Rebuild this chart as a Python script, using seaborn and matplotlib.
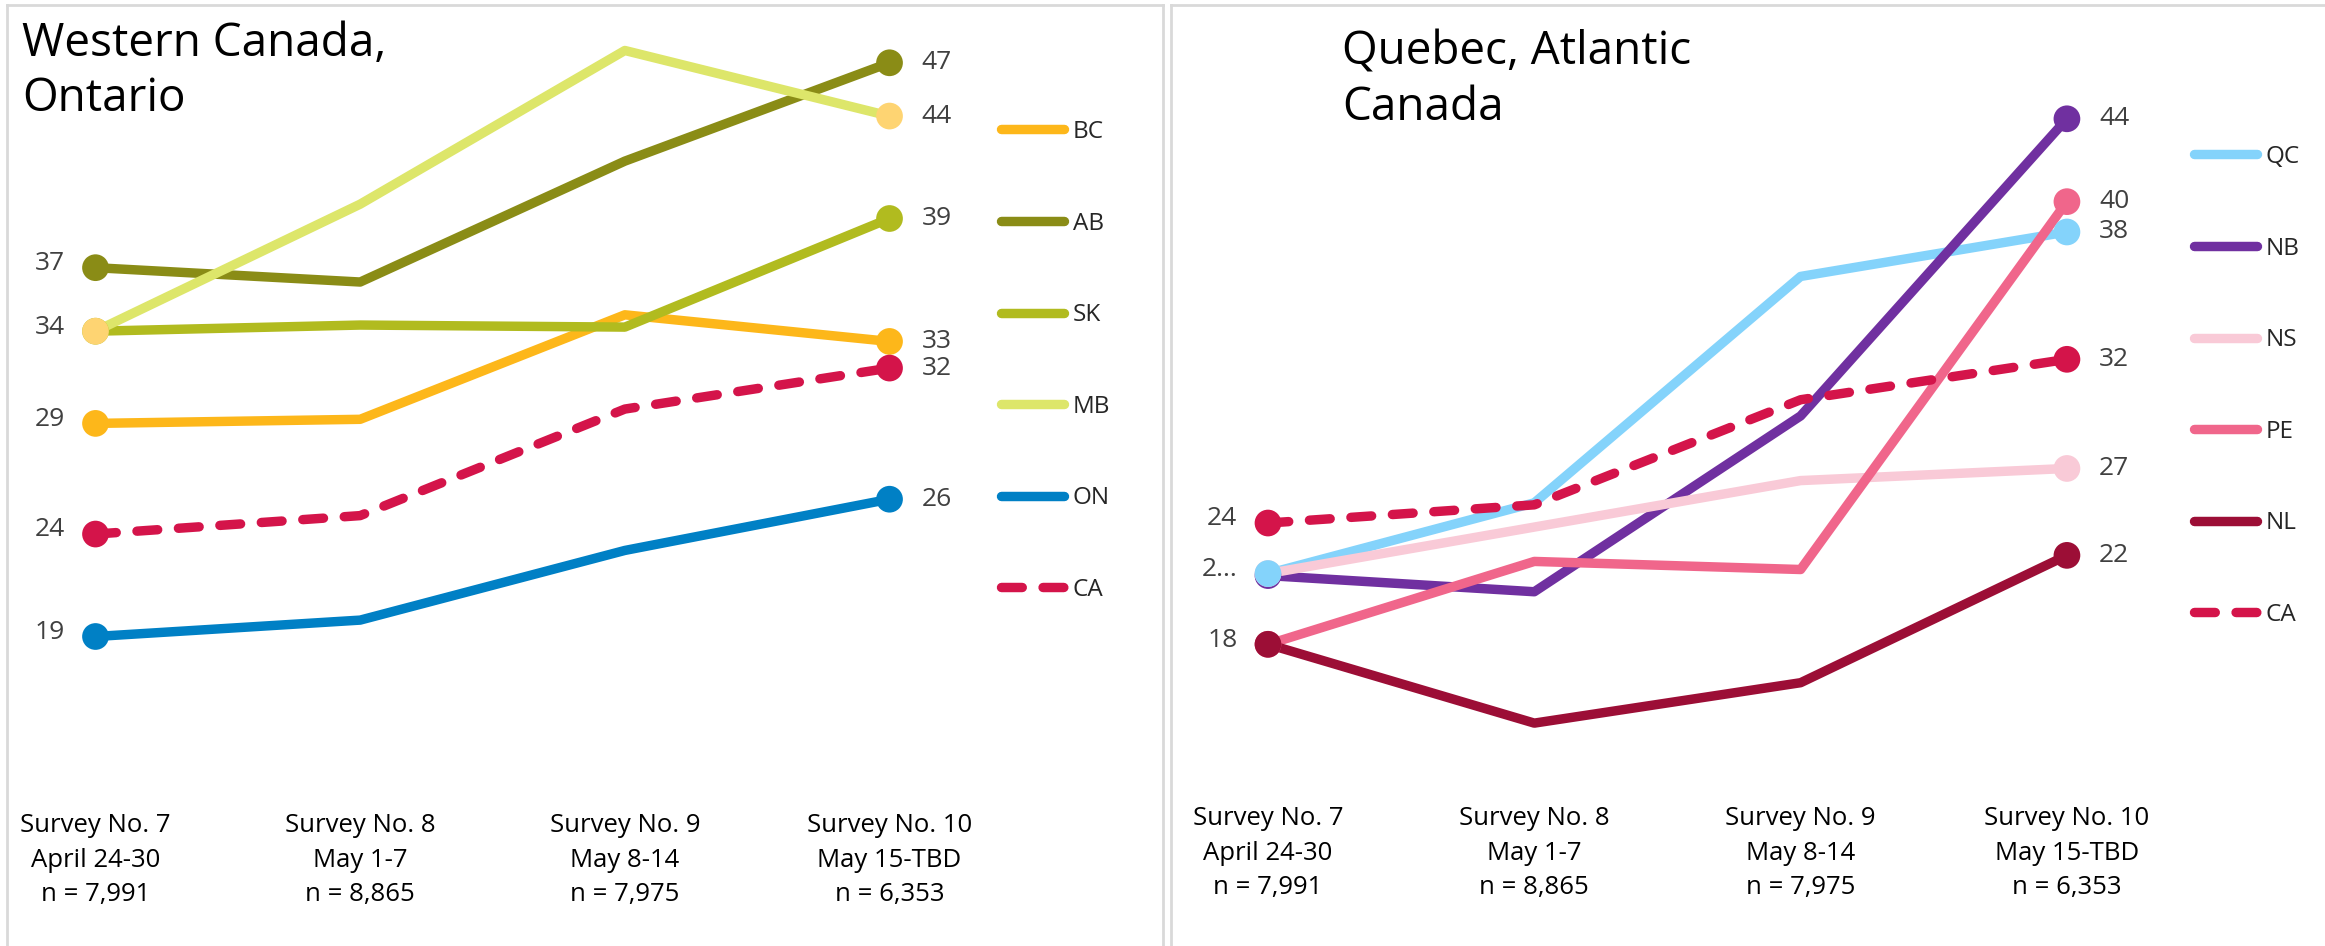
import matplotlib
matplotlib.use('Agg')
import matplotlib.pyplot as plt
import matplotlib.transforms as mtransforms
import seaborn as sns
import pandas as pd

# survey waves (x axis)
surveys = ['Survey No. 7\nApril 24-30\nn = 7,991',
           'Survey No. 8\nMay 1-7\nn = 8,865',
           'Survey No. 9\nMay 8-14\nn = 7,975',
           'Survey No. 10\nMay 15-TBD\nn = 6,353']

# Western Canada, Ontario
west_regions = ['BC', 'AB', 'SK', 'MB', 'ON', 'CA']
bc = [29.4, 29.6, 34.7, 33.4]
ab = [37.0, 36.3, 42.2, 47.0]
sk = [33.9, 34.2, 34.1, 39.4]
mb = [33.9, 40.1, 47.6, 44.4]
on = [19.0, 19.8, 23.2, 25.7]
ca = [24.0, 24.9, 30.1, 32.1]

# Quebec, Atlantic Canada
east_regions = ['QC', 'NB', 'NS', 'PE', 'NL', 'CA']
qc = [21.5, 25.0, 36.2, 38.4]
nb = [21.4, 20.6, 29.3, 44.0]
ns = [21.5, 23.8, 26.1, 26.7]
pe = [18.0, 22.1, 21.7, 39.9]
nl = [18.0, 14.1, 16.1, 22.4]

west_values = [bc, ab, sk, mb, on, ca]
east_values = [qc, nb, ns, pe, nl, ca]

# which first-wave values carry a label
west_start_labels = {'AB': '37', 'MB': '34', 'BC': '29', 'CA': '24', 'ON': '19'}
east_start_labels = {'CA': '24', 'QC': '2...', 'NL': '18'}

west_colors = {'BC': '#FDB71A', 'AB': '#8A8C16', 'SK': '#B1BB1F',
               'MB': '#DDE66A', 'ON': '#0080C5', 'CA': '#D4144A'}
west_marker_colors = dict(west_colors, MB='#FED472')
east_colors = {'QC': '#84D3FB', 'NB': '#7030A0', 'NS': '#F9CAD7',
               'PE': '#F0668B', 'NL': '#9C0E36', 'CA': '#D4144A'}
east_marker_order = ['NB', 'NS', 'PE', 'NL', 'QC', 'CA']

W, H = 2325, 946
sns.set_theme(style='white')
plt.rcParams['font.family'] = ['Open Sans', 'DejaVu Sans']

fig = plt.figure(figsize=(W / 100, H / 100), dpi=100)


def px_axes(x0, x1, y0, y1):
    # y measured from the top of the figure
    return fig.add_axes([x0 / W, 1 - y1 / H, (x1 - x0) / W, (y1 - y0) / H])


def draw_panel(ax, regions, values, colors, marker_colors, marker_order,
               start_labels, tick_y, legend_anchor):
    df = pd.DataFrame([{'x': i, 'value': v, 'region': r}
                       for r, vals in zip(regions, values)
                       for i, v in enumerate(vals)])
    dashes = {r: (2.2, 2.2) if r == 'CA' else '' for r in regions}
    sns.lineplot(data=df, x='x', y='value', hue='region', style='region',
                 hue_order=regions, style_order=regions, palette=colors,
                 dashes=dashes, linewidth=6.8, sort=False, ax=ax)
    for line in ax.lines:
        line.set_solid_capstyle('round')
        line.set_dash_capstyle('round')

    ends = df[df['x'].isin([0, 3])].copy()
    ends['order'] = ends['region'].map({r: k for k, r in enumerate(marker_order)})
    ends = ends.sort_values(['order'])
    sns.scatterplot(data=ends, x='x', y='value', hue='region',
                    palette=marker_colors, s=370, linewidth=0,
                    legend=False, zorder=5, ax=ax)

    for r, vals in zip(regions, values):
        ax.annotate(f'{round(vals[-1])}', (3, vals[-1]), xytext=(23, 0),
                    textcoords='offset points', ha='left', va='center',
                    fontsize=19, color='#404040')
        if r in start_labels:
            ax.annotate(start_labels[r], (0, vals[0]), xytext=(-22, 3),
                        textcoords='offset points', ha='right', va='center',
                        fontsize=19, color='#404040')

    trans = mtransforms.blended_transform_factory(ax.transData, ax.transAxes)
    for i, lab in enumerate(surveys):
        ax.text(i, tick_y, lab, transform=trans, ha='center', va='center',
                fontsize=18.5, color='black', linespacing=1.5)

    leg = ax.get_legend()
    handles = leg.legend_handles
    labels = [t.get_text() for t in leg.get_texts()]
    for h in handles:
        h.set_linewidth(6.8)
        h.set_solid_capstyle('round')
        h.set_dash_capstyle('round')
    ax.legend(handles, labels, loc='upper left', bbox_to_anchor=legend_anchor,
              frameon=False, fontsize=17.5, handlelength=2.6, handletextpad=0.35,
              labelspacing=2.78, borderpad=0, borderaxespad=0)

    ax.set_xticks([])
    ax.set_yticks([])
    ax.set_xlabel('')
    ax.set_ylabel('')
    for s in ax.spines.values():
        s.set_color('#D9D9D9')
        s.set_linewidth(2)
    ax.spines['bottom'].set_visible(False)


# left panel
ax1 = px_axes(7, 1163, 5, 946)
ax1.set_xlim(-0.3344, 4.0333)
ax1.set_ylim(3.895, 49.82)
draw_panel(ax1, west_regions, west_values, west_colors, west_marker_colors,
           west_regions, west_start_labels,
           (946 - 860) / 941, ((1001 - 7) / 1156, 1 - 115 / 941))
fig.text(22 / W, 1 - 21 / H, 'Western Canada,\nOntario', ha='left', va='top',
         fontsize=33, color='black', linespacing=1.27)

# right panel
ax2 = px_axes(1171, 2325, 5, 946)
ax2.set_xlim(-0.3642, 3.969)
ax2.set_ylim(3.073, 49.63)
draw_panel(ax2, east_regions, east_values, east_colors, east_colors,
           east_marker_order, east_start_labels,
           (946 - 853) / 941, ((2194 - 1171) / 1154, 1 - 140 / 941))
ax2.spines['right'].set_visible(False)
fig.text(1342 / W, 1 - 30 / H, 'Quebec, Atlantic\nCanada', ha='left', va='top',
         fontsize=33, color='black', linespacing=1.27)

fig.savefig('out.png', dpi=100)
